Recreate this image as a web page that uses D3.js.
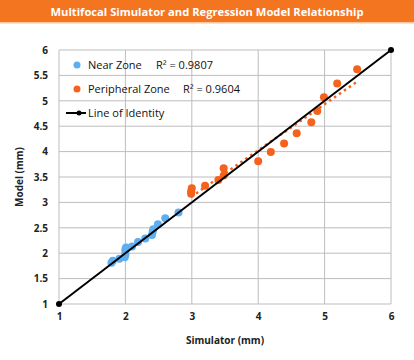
<!DOCTYPE html>
<html><head><meta charset="utf-8">
<script src="https://cdn.jsdelivr.net/npm/d3@7"></script>
<style>body{margin:0;background:#fff;}svg{display:block;font-family:"Open Sans","Lato",sans-serif;}</style>
</head><body>
<svg id="c" width="414" height="360"></svg>
<script>
const title = "Multifocal Simulator and Regression Model Relationship";
const nearX = [1.79, 1.81, 1.91, 1.99, 2.0, 2.0, 2.0, 2.01, 2.10, 2.19, 2.30, 2.40, 2.41, 2.42, 2.49, 2.60, 2.80];
const nearY = [1.81, 1.85, 1.89, 1.92, 1.97, 2.03, 2.08, 2.11, 2.13, 2.22, 2.29, 2.36, 2.42, 2.47, 2.57, 2.69, 2.80];
const periX = [2.99, 2.99, 3.0, 3.20, 3.40, 3.48, 3.48, 4.00, 4.19, 4.39, 4.58, 4.80, 4.89, 4.99, 5.19, 5.49];
const periY = [3.17, 3.22, 3.28, 3.33, 3.44, 3.53, 3.67, 3.81, 3.99, 4.16, 4.36, 4.58, 4.80, 5.07, 5.34, 5.62];
const identity = [1, 6];
const xTicks = [1, 2, 3, 4, 5, 6];
const yTicks = [1, 1.5, 2, 2.5, 3, 3.5, 4, 4.5, 5, 5.5, 6];
const legendLabels = ["Near Zone", "Peripheral Zone", "Line of Identity"];
const r2Labels = ["R² = 0.9807", "R² = 0.9604"];
const colNear = "#5EAEF0", colPeri = "#F4621C", colTitle = "#F47520";

const svg = d3.select("#c");
svg.append("rect").attr("x",0).attr("y",0).attr("width",414).attr("height",22).attr("fill",colTitle);
svg.append("rect").attr("x",0).attr("y",22).attr("width",414).attr("height",1.5).attr("fill","#FAC49C");
svg.append("text").attr("x",207).attr("y",15.5).attr("text-anchor","middle").attr("fill","#fff")
  .attr("font-size",11.2).attr("font-weight",700).text(title);

const x = d3.scaleLinear().domain([1,6]).range([59,391]);
const y = d3.scaleLinear().domain([1,6]).range([304,50]);

const g = svg.append("g");
g.selectAll(".vg").data(xTicks).join("line").attr("x1",d=>x(d)).attr("x2",d=>x(d)).attr("y1",y(6)).attr("y2",y(1))
  .attr("stroke","#BDBDBD").attr("stroke-width",1);
g.selectAll(".hg").data(yTicks).join("line").attr("y1",d=>y(d)).attr("y2",d=>y(d)).attr("x1",x(1)).attr("x2",x(6))
  .attr("stroke","#BDBDBD").attr("stroke-width",1);

const xAxis = d3.axisBottom(x).tickValues(xTicks).tickSize(0).tickPadding(9).tickFormat(d3.format("d"));
const gx = svg.append("g").attr("transform",`translate(0,${y(1)})`).call(xAxis);
gx.select(".domain").remove();
gx.selectAll("text").attr("font-size",10).attr("font-weight",700).attr("fill","#222").attr("font-family","Open Sans, sans-serif");
const yAxis = d3.axisLeft(y).tickValues(yTicks).tickSize(0).tickPadding(11).tickFormat(d=>String(d));
const gy = svg.append("g").attr("transform",`translate(${x(1)},0)`).call(yAxis);
gy.select(".domain").remove();
gy.selectAll("text").attr("font-size",10).attr("font-weight",700).attr("fill","#222").attr("font-family","Open Sans, sans-serif");

svg.append("text").attr("x",225).attr("y",344).attr("text-anchor","middle").attr("font-size",10).attr("font-weight",700).attr("fill","#222").text("Simulator (mm)");
svg.append("text").attr("transform","translate(23,177) rotate(-90)").attr("text-anchor","middle").attr("font-size",10).attr("font-weight",700).attr("fill","#222").text("Model (mm)");

function reg(xs, ys){const n=xs.length,mx=d3.mean(xs),my=d3.mean(ys);let sxy=0,sxx=0;for(let i=0;i<n;i++){sxy+=(xs[i]-mx)*(ys[i]-my);sxx+=(xs[i]-mx)**2;}const b=sxy/sxx;return [b,my-b*mx];}
const [pb,pa] = reg(periX, periY);
const pxmin=d3.min(periX), pxmax=d3.max(periX);
const line = d3.line().x(d=>x(d[0])).y(d=>y(d[1]));

const nearPts = nearX.map((v,i)=>[v,nearY[i]]);
const periPts = periX.map((v,i)=>[v,periY[i]]);
svg.append("g").selectAll("circle").data(nearPts).join("circle").attr("cx",d=>x(d[0])).attr("cy",d=>y(d[1])).attr("r",4).attr("fill",colNear);
svg.append("g").selectAll("circle").data(periPts).join("circle").attr("cx",d=>x(d[0])).attr("cy",d=>y(d[1])).attr("r",4).attr("fill",colPeri);

svg.append("path").attr("d",line([[pxmin,pa+pb*pxmin],[pxmax,pa+pb*pxmax]])).attr("stroke",colPeri).attr("stroke-width",2.5)
  .attr("stroke-dasharray","2.5,3.5").attr("fill","none");

const idPts = identity.map(v=>[v,v]);
svg.append("path").attr("d",line(idPts)).attr("stroke","#000").attr("stroke-width",2).attr("fill","none");
svg.append("g").selectAll("circle").data(idPts).join("circle").attr("cx",d=>x(d[0])).attr("cy",d=>y(d[1])).attr("r",3).attr("fill","#000");

const lg = svg.append("g").attr("font-size",11).attr("fill","#111");
lg.append("circle").attr("cx",77).attr("cy",65).attr("r",3.5).attr("fill",colNear);
lg.append("text").attr("x",88).attr("y",69).text(legendLabels[0]);
lg.append("text").attr("x",156).attr("y",69).text(r2Labels[0]);
lg.append("circle").attr("cx",77).attr("cy",89).attr("r",3.5).attr("fill",colPeri);
lg.append("text").attr("x",88).attr("y",93).text(legendLabels[1]);
lg.append("text").attr("x",183).attr("y",93).text(r2Labels[1]);
lg.append("line").attr("x1",66).attr("x2",86).attr("y1",113).attr("y2",113).attr("stroke","#000").attr("stroke-width",2);
lg.append("circle").attr("cx",79).attr("cy",113).attr("r",2.5).attr("fill","#000");
lg.append("text").attr("x",88).attr("y",117).text(legendLabels[2]);
</script>
</body></html>
